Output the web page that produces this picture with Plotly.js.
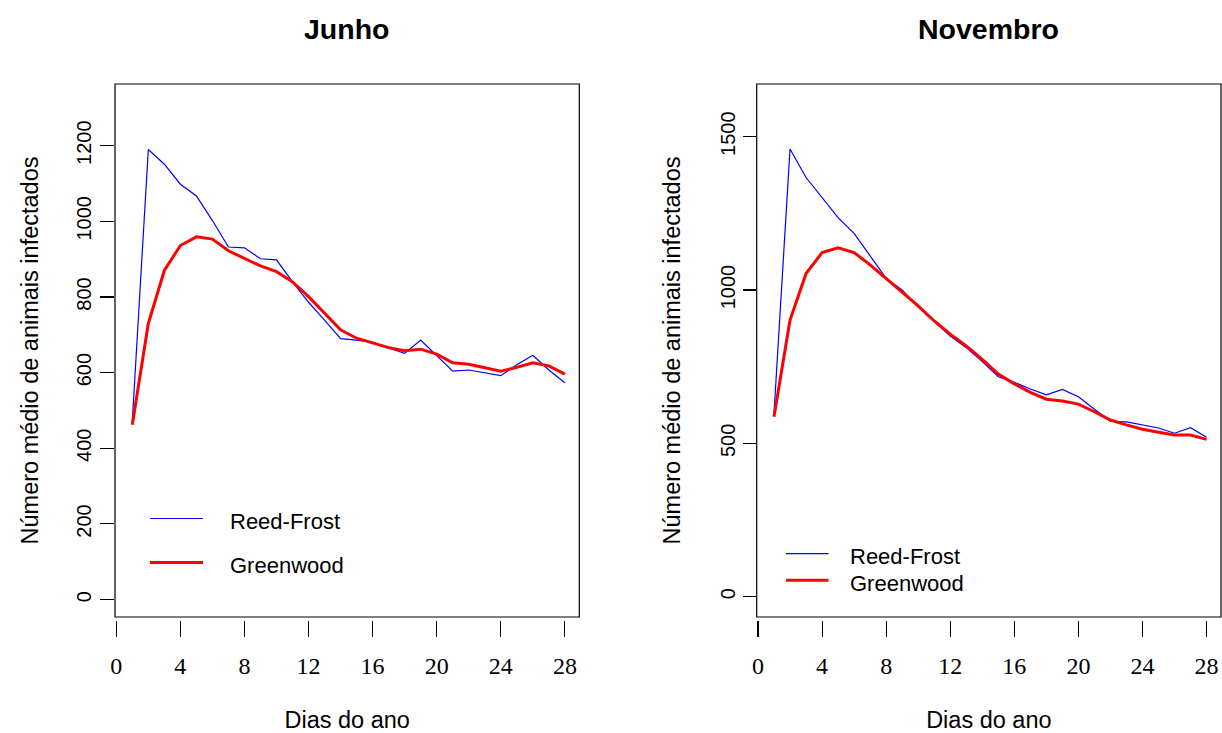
<!DOCTYPE html>
<html>
<head>
<meta charset="utf-8">
<script src="https://cdn.plot.ly/plotly-3.0.1.min.js"></script>
<style>
  html, body { margin: 0; padding: 0; background: #fff; }
  #chart { width: 1222px; height: 733px; }
</style>
</head>
<body>
<div id="chart"></div>
<script>
// Mean number of infected animals per day, two epidemic models, June and November
const days = [1, 2, 3, 4, 5, 6, 7, 8, 9, 10, 11, 12, 13, 14,
              15, 16, 17, 18, 19, 20, 21, 22, 23, 24, 25, 26, 27, 28];

const junhoReedFrost = [472, 1190, 1151, 1098, 1067, 1002, 932, 930, 901, 898, 840, 786, 739, 690,
                        686, 680, 665, 651, 686, 644, 604, 607, 600, 592, 621, 646, 607, 573];
const junhoGreenwood = [462, 730, 870, 936, 959, 953, 922, 901, 882, 867, 840, 801, 757, 713,
                        691, 678, 666, 658, 662, 649, 626, 622, 613, 604, 614, 626, 618, 596];

const novReedFrost = [598, 1460, 1367, 1302, 1236, 1185, 1111, 1038, 1000, 944, 897, 850, 812, 767,
                      717, 699, 677, 658, 676, 652, 611, 572, 570, 560, 550, 533, 551, 520];
const novGreenwood = [587, 902, 1054, 1122, 1138, 1122, 1082, 1038, 994, 948, 899, 856, 818, 774,
                      726, 694, 666, 644, 638, 628, 603, 576, 560, 546, 536, 527, 527, 513];

const panelTitles = ['Junho', 'Novembro'];
const seriesNames = ['Reed-Frost', 'Greenwood'];
const xTicks = [0, 4, 8, 12, 16, 20, 24, 28];
const yTicksJunho = [0, 200, 400, 600, 800, 1000, 1200];
const yTicksNov = [0, 500, 1000, 1500];
const xLabel = 'Dias do ano';
const yLabel = 'Número médio de animais infectados';

// ---- geometry (pixels) ----
const W = 1222, H = 733;
const boxTop = 84, boxBottom = 617, boxWidth = 464.3;
const boxLeft = [115, 756.7];
const px = v => v / W;
const py = v => (H - v) / H;

const sans = 'Liberation Sans, Arial, Helvetica, sans-serif';
const serif = 'Liberation Serif, Times New Roman, serif';
const blue = '#0000ff', red = '#ff0000';

const traces = [
  { x: days, y: junhoReedFrost, xaxis: 'x', yaxis: 'y', name: seriesNames[0],
    mode: 'lines', line: { color: blue, width: 1.2 } },
  { x: days, y: junhoGreenwood, xaxis: 'x', yaxis: 'y', name: seriesNames[1],
    mode: 'lines', line: { color: red, width: 3 } },
  { x: days, y: novReedFrost, xaxis: 'x2', yaxis: 'y2', name: seriesNames[0],
    mode: 'lines', line: { color: blue, width: 1.2 } },
  { x: days, y: novGreenwood, xaxis: 'x2', yaxis: 'y2', name: seriesNames[1],
    mode: 'lines', line: { color: red, width: 3 } }
];

const yDomain = [py(boxBottom), py(boxTop)];
const xAxisPos = py(boxBottom + 3);

function xAxis(i) {
  return {
    domain: [px(boxLeft[i]), px(boxLeft[i] + boxWidth)],
    range: [-0.08, 28.9],
    anchor: 'free', position: xAxisPos,
    showgrid: false, zeroline: false, showline: false,
    ticks: 'outside', ticklen: 16, tickwidth: 1.1, tickcolor: '#000',
    tickmode: 'array', tickvals: xTicks, ticktext: xTicks.map(String),
    tickfont: { family: serif, size: 24, color: '#000' },
    ticklabelstandoff: 8,
    title: { text: xLabel, font: { family: sans, size: 23.5, color: '#000' }, standoff: 34 },
    fixedrange: true
  };
}

function yAxis(i, ticks, range) {
  return {
    domain: yDomain,
    anchor: i === 0 ? 'x' : 'x2',
    range: range,
    showgrid: false, zeroline: false, showline: false,
    ticks: 'outside', ticklen: i === 0 ? 14 : 13, tickwidth: 1.1, tickcolor: '#000',
    tickmode: 'array', tickvals: ticks, ticktext: ticks.map(String),
    tickangle: -90,
    tickfont: { family: sans, size: 20, color: '#000' },
    ticklabelstandoff: i === 0 ? 1 : 0,
    title: { text: yLabel, font: { family: sans, size: 23.5, color: '#000' },
             standoff: i === 0 ? 27 : 29 },
    fixedrange: true
  };
}

const shapes = [];
const annotations = [];

// plot frames
['', '2'].forEach(s => {
  shapes.push({ type: 'rect', xref: 'x' + s + ' domain', yref: 'y' + s + ' domain',
    x0: 0, x1: 1, y0: 0, y1: 1, line: { color: '#000', width: 1.2 } });
});

// panel titles
panelTitles.forEach((t, i) => {
  annotations.push({ text: '<b>' + t + '</b>', xref: 'paper', yref: 'paper',
    x: px(boxLeft[i] + boxWidth / 2), y: py(29), xanchor: 'center', yanchor: 'middle',
    showarrow: false, font: { family: sans, size: 28.5, color: '#000' } });
});

// legend keys (pixel positions of each key row)
const legendRows = [
  { x0: 150, x1: 203, tx: 228, rows: [518.5, 562.5], textDy: 3 },
  { x0: 786, x1: 828.5, tx: 848, rows: [553.7, 580.3], textDy: 3 }
];
const legendStyle = [{ color: blue, width: 1.2 }, { color: red, width: 3 }];
legendRows.forEach(L => {
  L.rows.forEach((ry, k) => {
    shapes.push({ type: 'line', xref: 'paper', yref: 'paper',
      x0: px(L.x0), x1: px(L.x1), y0: py(ry), y1: py(ry), line: legendStyle[k] });
    annotations.push({ text: seriesNames[k], xref: 'paper', yref: 'paper',
      x: px(L.tx), y: py(ry + L.textDy), xanchor: 'left', yanchor: 'middle',
      showarrow: false, font: { family: sans, size: 22, color: '#000' } });
  });
});

const layout = {
  width: W, height: H,
  margin: { l: 0, r: 0, t: 0, b: 0 },
  paper_bgcolor: '#fff', plot_bgcolor: '#fff',
  showlegend: false,
  xaxis: xAxis(0),
  yaxis: yAxis(0, yTicksJunho, [-46, 1363]),
  xaxis2: xAxis(1),
  yaxis2: yAxis(1, yTicksNov, [-66.5, 1672]),
  shapes: shapes,
  annotations: annotations
};

Plotly.newPlot('chart', traces, layout, { displayModeBar: false, staticPlot: true });
</script>
</body>
</html>
